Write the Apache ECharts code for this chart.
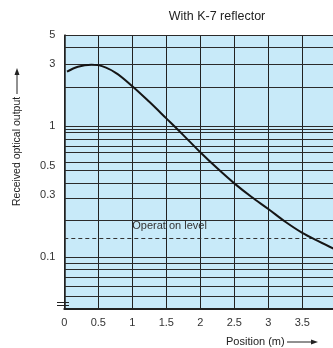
<!DOCTYPE html>
<html>
<head>
<meta charset="utf-8">
<script src="https://cdn.jsdelivr.net/npm/echarts@6/dist/echarts.min.js"></script>
<style>
  html, body { margin: 0; padding: 0; background: #ffffff; }
  #chart { width: 333px; height: 348px; }
</style>
</head>
<body>
<div id="chart"></div>
<script>
// Received optical output vs. position, K-7 reflector
const positions = [0.04, 0.2, 0.4, 0.5, 0.75, 1.0, 1.25, 1.5, 1.75, 2.0, 2.25, 2.5, 2.75, 3.0, 3.25, 3.5, 3.75, 4.0];
const outputs   = [2.62, 2.86, 2.96, 2.94, 2.58, 2.03, 1.54, 1.15, 0.857, 0.633, 0.477, 0.366, 0.289, 0.233, 0.186, 0.153, 0.131, 0.113];

// Tick labels on both axes
const xTickValues = [0, 0.5, 1, 1.5, 2, 2.5, 3, 3.5, 4];
const yTickValues = [0.1, 0.3, 0.5, 1, 3, 5];

// Horizontal rulings of the log paper
const gridLevels = [5, 4.0, 3, 2, 1, 0.948, 0.9, 0.8, 0.71, 0.628, 0.53, 0.463, 0.366, 0.276, 0.194,
                    0.105, 0.094, 0.084, 0.075, 0.064, 0.055, 0.048];

const operationLevel = 0.145;
const operationLabel = 'Operat on level';
const operationLabelAt = 1.0;

const FONT = '"Liberation Sans", Arial, Helvetica, sans-serif';
const INK = '#222222';

const chart = echarts.init(document.getElementById('chart'), null, { renderer: 'canvas' });

chart.setOption({
  animation: false,
  backgroundColor: '#ffffff',
  textStyle: { fontFamily: FONT },
  grid: {
    left: 64.3, right: -3.3, top: 35, bottom: 39,
    show: true, backgroundColor: '#c8eaf9', borderWidth: 0,
    outerBoundsMode: 'none',
    containLabel: false
  },
  xAxis: {
    type: 'value', min: 0, max: 4, interval: 0.5,
    axisLine: { show: true, onZero: false, lineStyle: { color: INK, width: 2 } },
    axisTick: { show: false },
    splitLine: { show: true, lineStyle: { color: INK, width: 1 } },
    axisLabel: {
      color: '#333', fontSize: 11, fontFamily: FONT, margin: 8,
      customValues: xTickValues,
      formatter: v => String(v)
    }
  },
  yAxis: {
    type: 'log', logBase: 10, min: 0.04, max: 5,
    axisLine: { show: true, lineStyle: { color: INK, width: 1.5 } },
    axisTick: { show: false },
    splitLine: { show: false },
    minorSplitLine: { show: false },
    axisLabel: {
      color: '#333', fontSize: 11, fontFamily: FONT, margin: 9,
      customValues: yTickValues,
      formatter: v => String(+v.toPrecision(3))
    }
  },
  series: [
    {
      // paper rulings and the operation threshold
      type: 'line',
      data: [],
      z: 2,
      silent: true,
      markLine: {
        silent: true,
        symbol: ['none', 'none'],
        animation: false,
        label: { show: false },
        lineStyle: { color: '#2b2b2b', width: 1, type: 'solid' },
        data: gridLevels.map(v => ({ yAxis: v }))
          .concat([{ yAxis: operationLevel, lineStyle: { type: [4, 3], color: '#333', width: 1 } }])
      },
      markPoint: {
        silent: true,
        animation: false,
        data: [{
          coord: [operationLabelAt, operationLevel],
          symbol: 'circle', symbolSize: 0,
          label: {
            show: true, formatter: operationLabel,
            position: [0, -15], align: 'left', verticalAlign: 'top',
            color: '#333', fontSize: 11, fontFamily: FONT
          }
        }]
      }
    },
    {
      type: 'line',
      z: 5,
      data: positions.map((x, i) => [x, outputs[i]]),
      smooth: 0.35,
      showSymbol: false,
      symbol: 'none',
      clip: true,
      lineStyle: { color: '#151515', width: 2 }
    }
  ],
  graphic: [
    {
      type: 'text', x: 217, y: 17,
      style: { text: 'With K-7 reflector', fill: '#222', font: '12.5px ' + FONT, align: 'center', verticalAlign: 'middle' }
    },
    // vertical axis title with arrow
    {
      type: 'text', x: 17, y: 206, rotation: Math.PI / 2,
      style: { text: 'Received optical output', fill: '#222', font: '10.5px ' + FONT, align: 'left', verticalAlign: 'middle' }
    },
    { type: 'line', shape: { x1: 17, y1: 94, x2: 17, y2: 75 }, style: { stroke: '#222', lineWidth: 1 } },
    { type: 'polygon', shape: { points: [[14.5, 75], [19.5, 75], [17, 68]] }, style: { fill: '#222' } },
    // horizontal axis title with arrow
    {
      type: 'text', x: 226, y: 342,
      style: { text: 'Position (m)', fill: '#222', font: '11px ' + FONT, align: 'left', verticalAlign: 'middle' }
    },
    { type: 'line', shape: { x1: 287, y1: 342, x2: 311, y2: 342 }, style: { stroke: '#222', lineWidth: 1 } },
    { type: 'polygon', shape: { points: [[311, 339.5], [311, 344.5], [318, 342]] }, style: { fill: '#222' } },
    // axis break mark near the origin
    { type: 'line', shape: { x1: 57, y1: 302.5, x2: 69, y2: 302.5 }, style: { stroke: '#222', lineWidth: 1 }, z: 10 },
    { type: 'line', shape: { x1: 57, y1: 305.5, x2: 69, y2: 305.5 }, style: { stroke: '#222', lineWidth: 1 }, z: 10 }
  ]
});
</script>
</body>
</html>
